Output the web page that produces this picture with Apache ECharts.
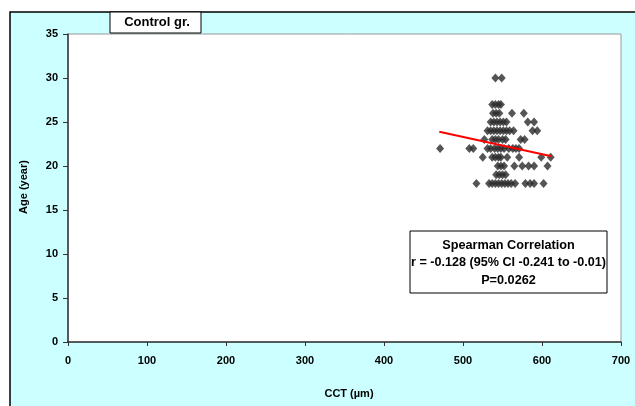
<!DOCTYPE html>
<html>
<head>
<meta charset="utf-8">
<script src="https://cdn.jsdelivr.net/npm/echarts@6/dist/echarts.min.js"></script>
<style>
  html, body { margin: 0; padding: 0; background: #fff; }
  #chart { width: 635px; height: 406px; }
</style>
</head>
<body>
<div id="chart"></div>
<script>
const ages = [30, 27, 26, 25, 24, 23, 22, 21, 20, 19, 18];
const cctByAge = [
  [541, 549],
  [537, 541, 545, 548],
  [538, 542, 546, 562, 577],
  [535, 539, 543, 547, 551, 555, 582, 590],
  [531, 535, 539, 543, 547, 551, 555, 559, 564, 588, 594],
  [527, 537, 541, 545, 550, 554, 573, 578],
  [471, 508, 513, 531, 535, 540, 544, 548, 552, 558, 563, 567, 571],
  [525, 537, 541, 545, 548, 556, 571, 599, 611],
  [544, 548, 552, 565, 575, 583, 590, 607],
  [542, 546, 550, 554],
  [517, 533, 537, 541, 545, 549, 553, 557, 561, 566, 579, 585, 590, 602]
];
// regression line end points
const trendLine = [[470, 23.9], [612, 21.1]];
const statLines = [
  "Spearman Correlation",
  "r = -0.128 (95% CI -0.241 to -0.01)",
  "P=0.0262"
];

const points = [];
ages.forEach((a, i) => {
  cctByAge[i].forEach((c) => points.push([c, a]));
});

const chart = echarts.init(document.getElementById("chart"), null, { renderer: "canvas" });
const font = "Liberation Sans, Arial, sans-serif";

chart.setOption({
  backgroundColor: "#fff",
  animation: false,
  grid: {
    left: 68, right: 14, top: 34, bottom: 64,
    show: true, backgroundColor: "#fff", borderColor: "#999", borderWidth: 1
  },
  xAxis: {
    type: "value", min: 0, max: 700, interval: 100,
    axisLine: { show: true, lineStyle: { color: "#333", width: 1.5 } },
    axisTick: { show: true, length: 4, lineStyle: { color: "#333" } },
    axisLabel: { fontFamily: font, fontWeight: "bold", fontSize: 11, color: "#000", margin: 13 },
    splitLine: { show: false }
  },
  yAxis: {
    type: "value", min: 0, max: 35, interval: 5,
    axisLine: { show: true, lineStyle: { color: "#333", width: 1.5 } },
    axisTick: { show: true, length: 5, lineStyle: { color: "#333" } },
    axisLabel: { fontFamily: font, fontWeight: "bold", fontSize: 11, color: "#000", margin: 10 },
    splitLine: { show: false }
  },
  graphic: [
    {
      type: "rect", z: -10, silent: true,
      shape: { x: 10, y: 12, width: 640, height: 410 },
      style: { fill: "#ccffff", stroke: "#000", lineWidth: 1.5 }
    },
    {
      type: "rect", z: 100,
      shape: { x: 110, y: 12, width: 91, height: 21 },
      style: { fill: "#fff", stroke: "#000", lineWidth: 1 }
    },
    {
      type: "text", z: 101, x: 157, y: 22.5,
      style: { text: "Control gr.", font: "bold 13px " + font, fill: "#000", align: "center", verticalAlign: "middle" }
    },
    {
      type: "text", z: 101, x: 349, y: 394,
      style: { text: "CCT (µm)", font: "bold 11px " + font, fill: "#000", align: "center", verticalAlign: "middle" }
    },
    {
      type: "text", z: 101, x: 24, y: 187, rotation: Math.PI / 2,
      style: { text: "Age (year)", font: "bold 11px " + font, fill: "#000", align: "center", verticalAlign: "middle" }
    },
    {
      type: "rect", z: 100,
      shape: { x: 410, y: 231, width: 197, height: 62 },
      style: { fill: "#fff", stroke: "#000", lineWidth: 1 }
    },
    {
      type: "text", z: 101, x: 508.5, y: 245,
      style: { text: statLines[0], font: "bold 12.7px " + font, fill: "#000", align: "center", verticalAlign: "middle" }
    },
    {
      type: "text", z: 101, x: 508.5, y: 263,
      style: { text: statLines[1], font: "bold 12.6px " + font, fill: "#000", align: "center", verticalAlign: "middle" }
    },
    {
      type: "text", z: 101, x: 508.5, y: 280,
      style: { text: statLines[2], font: "bold 12.7px " + font, fill: "#000", align: "center", verticalAlign: "middle" }
    }
  ],
  series: [
    {
      type: "scatter",
      data: points,
      symbol: "diamond",
      symbolSize: [8, 9],
      itemStyle: { color: "#2b2b2b" }
    },
    {
      type: "line",
      data: trendLine,
      symbol: "none",
      lineStyle: { color: "#ff0000", width: 2 },
      z: 5
    }
  ]
});
</script>
</body>
</html>
